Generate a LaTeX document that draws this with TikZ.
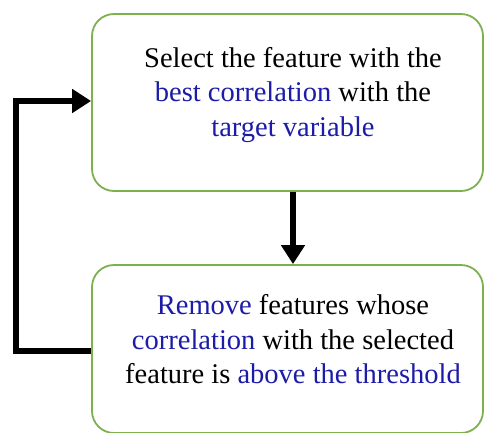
\documentclass[tikz,border=0pt]{standalone}
\usepackage{fontspec}
\setmainfont{Liberation Serif}
\usetikzlibrary{arrows.meta}
\definecolor{boxgreen}{HTML}{7CB050}
\definecolor{hiblue}{HTML}{1C1CA8}
\begin{document}
\begin{tikzpicture}[x=1pt,y=-1pt,
  stepbox/.style={draw=boxgreen,line width=1.8pt,rounded corners=22pt,fill=white},
  steptext/.style={align=center,font=\fontsize{28.5}{34.5}\selectfont,inner sep=0pt},
  flow/.style={line width=6pt,-{Triangle[length=19pt,width=23pt]},line join=miter}]
  \useasboundingbox (0,0) rectangle (485,432);
  % the two process boxes
  \node[stepbox,minimum width=391pt,minimum height=177pt] (sel) at (287.5,102.5) {};
  \node[stepbox,minimum width=391pt,minimum height=168pt] (rem) at (287.5,349) {};
  % their texts
  \node[steptext] (seltxt) at (293,95) {Select the feature with the\\
    \textcolor{hiblue}{best correlation} with the\\
    \textcolor{hiblue}{target variable}};
  \node[steptext] (remtxt) at (293,339.5) {\textcolor{hiblue}{Remove} features whose\\
    \textcolor{hiblue}{correlation} with the selected\\
    feature is \textcolor{hiblue}{above the threshold}};
  % connectors
  \coordinate (loopbot) at (16,351);
  \coordinate (looptop) at (16,101);
  \draw[flow] (sel.south -| 293,0) -- (rem.north -| 293,0);
  \draw[flow] (rem.west |- loopbot) -- (loopbot) -- (looptop) -- (sel.west |- looptop);
\end{tikzpicture}
\end{document}
